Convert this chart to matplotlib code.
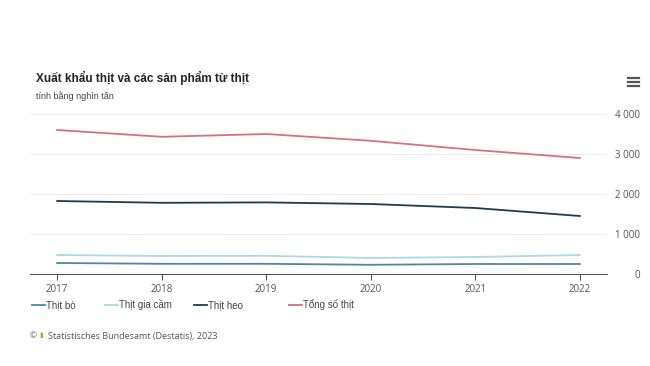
import matplotlib.pyplot as plt
from matplotlib.lines import Line2D
from matplotlib.ticker import FuncFormatter

# data (nghìn tấn)
years = [2017, 2018, 2019, 2020, 2021, 2022]
thit_bo = [275, 255, 255, 230, 250, 250]
thit_gia_cam = [475, 450, 455, 400, 425, 475]
thit_heo = [1825, 1780, 1790, 1750, 1650, 1450]
tong_so = [3600, 3430, 3500, 3330, 3100, 2900]

series = [
    ("Thịt bò", thit_bo, "#4f86a6"),
    ("Thịt gia cầm", thit_gia_cam, "#a9d9ea"),
    ("Thịt heo", thit_heo, "#1d3b4f"),
    ("Tổng số thịt", tong_so, "#d8707f"),
]

plt.rcParams['font.family'] = ['Liberation Sans', 'DejaVu Sans']

fig = plt.figure(figsize=(6.5, 3.66), dpi=100)
ax = fig.add_axes([30/650, 1-274/366, 577/650, 160/366])

for name, vals, col in series:
    ax.plot(years, vals, color=col, lw=1.3, label=name)

ax.set_xlim(2016.74, 2022.26)
ax.set_ylim(0, 4000)
ax.set_xticks(years)
ax.set_yticks([0, 1000, 2000, 3000, 4000])
ax.yaxis.set_major_formatter(FuncFormatter(lambda v, p: f"{int(v):,}".replace(",", " ")))
ax.yaxis.tick_right()
ax.grid(axis='y', color='#eeeeee', lw=0.8)
ax.set_axisbelow(True)
for s in ['top', 'left', 'right']:
    ax.spines[s].set_visible(False)
ax.spines['bottom'].set_color('#555555')
ax.spines['bottom'].set_linewidth(0.8)
ax.tick_params(axis='y', length=0, pad=24, labelsize=7, labelcolor='#555555')
ax.tick_params(axis='x', length=4, width=0.8, color='#555555', pad=3,
               labelsize=7, labelcolor='#555555')
for lab in ax.get_xticklabels() + ax.get_yticklabels():
    lab.set_fontfamily(['Open Sans', 'DejaVu Sans'])
for lab in ax.get_yticklabels():
    lab.set_horizontalalignment('right')

fig.text(36/650, 1-78/366, "Xuất khẩu thịt và các sản phẩm từ thịt",
         fontsize=8.5, fontweight='bold', color='#222222', va='center')
fig.text(36/650, 1-96/366, "tính bằng nghìn tấn", fontsize=6.5,
         color='#444444', va='center')

# menu icon
for yy in [78, 82, 86]:
    fig.add_artist(Line2D([628/650, 639/650], [1-yy/366, 1-yy/366],
                          color='#555555', lw=1.6))

# legend entries
leg_x = [28, 101, 190, 285]
handles, labels = ax.get_legend_handles_labels()
for h, l, x in zip(handles, labels, leg_x):
    leg = fig.legend([h], [l], loc='center left',
                     bbox_to_anchor=(x/650, 1-305/366), frameon=False,
                     handlelength=1.3, handletextpad=0.15, borderaxespad=0,
                     prop={'size': 7})
    for t in leg.get_texts():
        t.set_color('#444444')

fig.text(30/650, 1-336/366, "©", fontsize=6.5, color='#555555', va='center')
fig.text(48/650, 1-336/366, "Statistisches Bundesamt (Destatis), 2023",
         fontsize=6.5, color='#555555', va='center',
         family=['Open Sans', 'DejaVu Sans'])
fig.text(39/650, 1-336/366, "▮", fontsize=5, color='#c9a227', va='center')

fig.savefig("out.png", dpi=100)
